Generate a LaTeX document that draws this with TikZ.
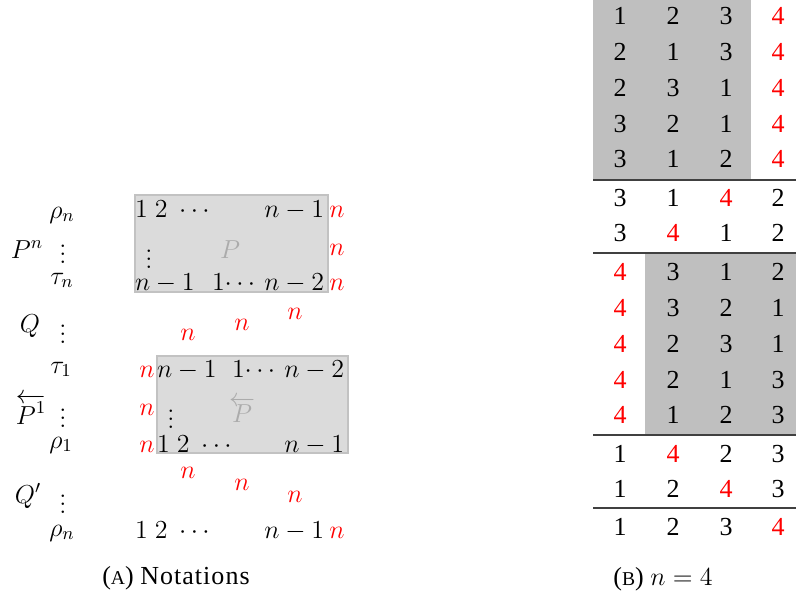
\documentclass[tikz,border=0pt]{standalone}
\usepackage{fix-cm}
\usepackage{fontspec}
\newfontfamily\tabfont{Liberation Serif}
\newcommand\rd[1]{\textcolor{red}{#1}}
\newcommand\fsmain{\fontsize{13}{15.6}\selectfont}
\newcommand\fssc{\fontsize{9.8}{12}\selectfont}
\begin{document}
\begin{tikzpicture}[x=0.5pt,y=-0.5pt,
  every node/.style={inner sep=0pt, outer sep=0pt, font=\fsmain},
  lbl/.style={anchor=base},
  lw/.style={anchor=base west},
  le/.style={anchor=base east},
  redn/.style={anchor=base, text=red},
  pbox/.style={draw=black!24, fill=black!14, line width=0.75pt},
  pname/.style={anchor=base, text=black!33},
  cell/.style={anchor=base, font=\fsmain\tabfont},
  tabgray/.style={fill=black!25},
  rule/.style={draw=black!75, line width=0.6pt},
  captext/.style={anchor=base, font=\fsmain\tabfont}]
\useasboundingbox (0,0) rectangle (796,593);
\clip (0,0) rectangle (796,593);

% ---------- (A) notations ----------
% first block P^n
\coordinate (b1nw) at (135,195);
\coordinate (b1se) at (328,292);
\draw[pbox] (b1nw) rectangle (b1se);
\node[lbl] (rhoA) at (62,218) {$\rho_n$};
\node[lbl] (Pn) at (27,258) {$P^n$};
\node[lbl] (vdA) at (63,263) {$\vdots$};
\node[lbl] (tauA) at (62,284) {$\tau_n$};
\node[lw] (r1a) at (135,217) {$1\;2\;\cdots$};
\node[le] (r1b) at (324,217) {$n-1$};
\node[redn] (r1n) at (337,217) {$n$};
\node[lbl] (vdB) at (149,268) {$\vdots$};
\node[pname] (Pin) at (230,258) {$P$};
\node[redn] (r2n) at (337,255) {$n$};
\node[lw] (r3a) at (135,290) {$n-1$};
\node[lw] (r3b) at (212,290) {$1\!\cdots$};
\node[le] (r3c) at (324,290) {$n-2$};
\node[redn] (r3n) at (337,290) {$n$};

% Q
\node[lbl] (Q) at (30,332) {$Q$};
\node[lbl] (vdQ) at (63,343) {$\vdots$};
\node[redn] (q1) at (188,340) {$n$};
\node[redn] (q2) at (242,330) {$n$};
\node[redn] (q3) at (295,319) {$n$};

% second block, reversed P
\coordinate (b2nw) at (157,356);
\coordinate (b2se) at (348,453);
\draw[pbox] (b2nw) rectangle (b2se);
\node[lbl] (tauB) at (61,373) {$\tau_1$};
\node[lbl] (P1) at (31,424) {$\overleftarrow{P^1}$};
\node[lbl] (vdC) at (63,427) {$\vdots$};
\node[lbl] (rhoB) at (61,448) {$\rho_1$};
\node[redn] (s1n) at (147,377) {$n$};
\node[lw] (s1a) at (157,377) {$n-1$};
\node[lw] (s1b) at (232,377) {$1\!\cdots$};
\node[le] (s1c) at (344,377) {$n-2$};
\node[redn] (s2n) at (147,415) {$n$};
\node[lbl] (vdD) at (171,428) {$\vdots$};
\node[pname] (Prev) at (242,422) {$\overleftarrow{P}$};
\node[redn] (s3n) at (147,452) {$n$};
\node[lw] (s3a) at (157,452) {$1\;2\;\cdots$};
\node[le] (s3b) at (344,452) {$n-1$};

% Q'
\node[redn] (u1) at (188,478) {$n$};
\node[redn] (u2) at (242,490) {$n$};
\node[redn] (u3) at (295,502) {$n$};
\node[lbl] (Qp) at (28,503) {$Q'$};
\node[lbl] (vdE) at (63,513) {$\vdots$};
\node[lbl] (rhoC) at (62,536) {$\rho_n$};
\node[lw] (w1a) at (135,538) {$1\;2\;\cdots$};
\node[le] (w1b) at (324,538) {$n-1$};
\node[redn] (w1n) at (337,538) {$n$};

\node[captext] (capA) at (176,584) {({\fssc A}) {\addfontfeature{LetterSpace=4}Notations}};

% ---------- (B) n = 4 ----------
\fill[tabgray] (593,-5) rectangle (751,179);
\fill[tabgray] (645,254) rectangle (805,435);
\draw[rule] (593,180) -- (805,180);
\draw[rule] (593,253) -- (805,253);
\draw[rule] (593,435) -- (805,435);
\draw[rule] (593,508) -- (805,508);
\foreach \r/\yb/\a/\b/\c/\d in {
   1/25/1/2/3/\rd4, 2/61/2/1/3/\rd4, 3/97/2/3/1/\rd4,
   4/133/3/2/1/\rd4, 5/168/3/1/2/\rd4,
   6/206/3/1/\rd4/2, 7/242/3/\rd4/1/2,
   8/280/\rd4/3/1/2, 9/316/\rd4/3/2/1, 10/352/\rd4/2/3/1,
   11/388/\rd4/2/1/3, 12/423/\rd4/1/2/3,
   13/462/1/\rd4/2/3, 14/497/1/2/\rd4/3,
   15/535/1/2/3/\rd4}{
  \node[cell] (t\r-1) at (620,\yb) {\a};
  \node[cell] (t\r-2) at (673,\yb) {\b};
  \node[cell] (t\r-3) at (726,\yb) {\c};
  \node[cell] (t\r-4) at (778,\yb) {\d};
}
\node[captext] (capB) at (663,585) {({\fssc B}) $n=4$};
\end{tikzpicture}
\end{document}
